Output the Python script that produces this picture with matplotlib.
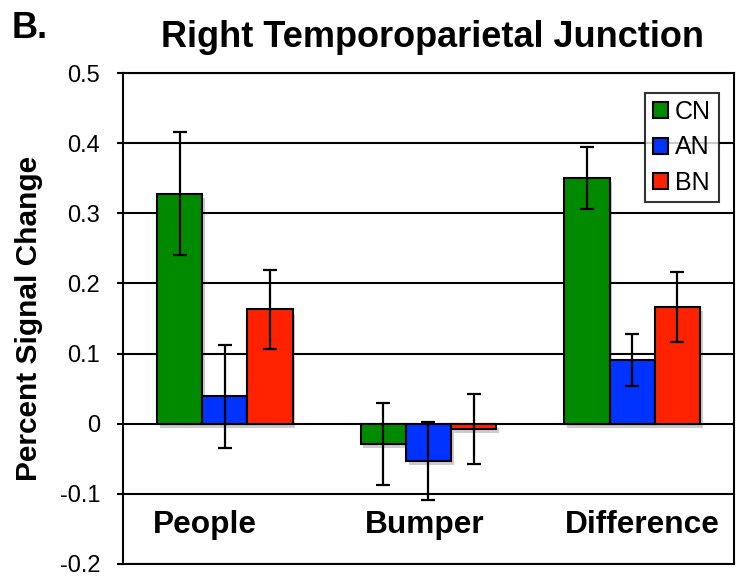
import numpy as np
import matplotlib.pyplot as plt
import matplotlib.patheffects as pe

plt.rcParams['font.family'] = ['Liberation Sans', 'DejaVu Sans']

# Datos
categories = ['People', 'Bumper', 'Difference']
groups = ['CN', 'AN', 'BN']
cn_vals = [0.328, -0.029, 0.350]
an_vals = [0.039, -0.053, 0.091]
bn_vals = [0.163, -0.007, 0.166]
cn_err = [0.088, 0.058, 0.044]
an_err = [0.073, 0.056, 0.037]
bn_err = [0.056, 0.050, 0.050]
y_ticks = [0.5, 0.4, 0.3, 0.2, 0.1, 0, -0.1, -0.2]
y_ticklabels = ['0.5', '0.4', '0.3', '0.2', '0.1', '0', '-0.1', '-0.2']

colors = ['#008A00', '#0033FF', '#FF2200']

fig = plt.figure(figsize=(7.48, 5.8), dpi=100)
ax = fig.add_axes([0.1644, 0.0276, 0.8169, 0.8465])

x = np.arange(len(categories))
width = 0.222
vals = [cn_vals, an_vals, bn_vals]
errs = [cn_err, an_err, bn_err]

# lineas horizontales
for t in y_ticks:
    ax.axhline(t, color='black', lw=1.5, zorder=1)

shadow = [pe.SimplePatchShadow(offset=(2, -3), shadow_rgbFace='black', alpha=0.2), pe.Normal()]
for i in range(3):
    pos = x + (i - 1) * width
    bars = ax.bar(pos, vals[i], width, color=colors[i], edgecolor='black',
                  linewidth=1.5, label=groups[i], zorder=2)
    for b in bars:
        b.set_path_effects(shadow)
    ax.errorbar(pos, vals[i], yerr=errs[i], fmt='none', ecolor='black',
                elinewidth=1.6, capsize=4.7, capthick=1.6, zorder=3)

ax.set_xlim(-0.5, 2.5)
ax.set_ylim(-0.2, 0.5)
ax.set_yticks(y_ticks)
ax.set_yticklabels(y_ticklabels, fontsize=17)
ax.set_xticks([])
ax.tick_params(axis='y', direction='out', length=4.5, width=1.5, pad=12)
for s in ax.spines.values():
    s.set_linewidth(1.5)

# etiquetas de categoria dentro del eje
label_dx = [-0.1, -0.02, 0.05]
for i, c in enumerate(categories):
    ax.text(x[i] + label_dx[i], -0.145, c, ha='center', va='center',
            fontsize=22.8, fontweight='bold')

ax.set_ylabel('Percent Signal Change', fontsize=21.5, fontweight='bold', labelpad=12)

leg = ax.legend(loc='upper right', bbox_to_anchor=(0.975, 0.96), fontsize=18,
                frameon=True, fancybox=False, handlelength=0.6, handleheight=0.6,
                handletextpad=0.3, labelspacing=0.45, borderpad=0.3,
                borderaxespad=0)
leg.get_frame().set_edgecolor('black')
leg.get_frame().set_linewidth(1.5)
for h in leg.legend_handles:
    h.set_path_effects([])

fig.text(0.578, 0.936, 'Right Temporoparietal Junction', ha='center', va='center',
         fontsize=26, fontweight='bold')
fig.text(0.015, 0.95, 'B.', ha='left', va='center', fontsize=26, fontweight='bold')

fig.savefig('out.png', dpi=100)
